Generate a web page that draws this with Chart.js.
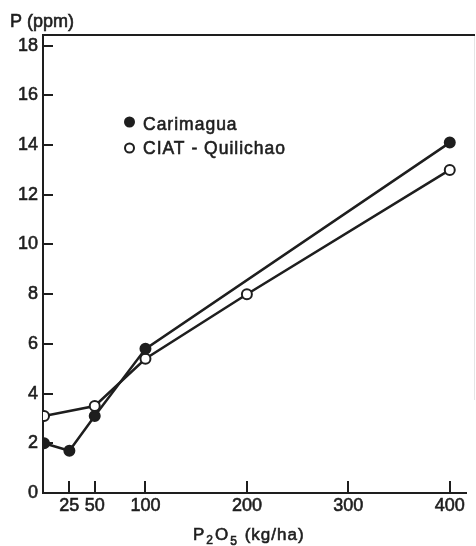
<!DOCTYPE html>
<html>
<head>
<meta charset="utf-8">
<script src="https://cdn.jsdelivr.net/npm/chart.js@4.4.1/dist/chart.umd.min.js"></script>
<style>
  html, body { margin: 0; padding: 0; background: #fff; }
  #wrap { width: 476px; height: 546px; }
</style>
</head>
<body>
<div id="wrap"><canvas id="p-response" width="476" height="546"></canvas></div>
<script>
// Extractable soil P versus applied P2O5 at two sites
const carimaguaRates = [0, 25, 50, 100, 400];
const carimaguaP = [2.0, 1.7, 3.1, 5.8, 14.1];
const quilichaoRates = [0, 50, 100, 200, 400];
const quilichaoP = [3.1, 3.5, 5.4, 8.0, 13.0];
const xTickValues = [25, 50, 100, 200, 300, 400];
const yTickValues = [0, 2, 4, 6, 8, 10, 12, 14, 16, 18];

const INK = '#1e1e1e';
const FONT = "'Liberation Sans', Arial, Helvetica, sans-serif";
const TEXT_STROKE = 0.6; // gives the thin sans a slightly heavier look

function toPoints(xs, ys) {
    return xs.map((x, i) => ({ x: x, y: ys[i] }));
}

function heavyText(ctx, text, x, y) {
    ctx.fillText(text, x, y);
    ctx.strokeText(text, x, y);
}

// inward tick marks, axis titles, legend and the open top frame
const decorations = {
    id: 'decorations',
    afterDraw(chart) {
        const ctx = chart.ctx;
        const area = chart.chartArea;
        const xs = chart.scales.x;
        const ys = chart.scales.y;

        ctx.save();
        ctx.strokeStyle = INK;
        ctx.lineWidth = 2;

        // top frame line
        ctx.beginPath();
        ctx.moveTo(area.left - 1, area.top);
        ctx.lineTo(chart.width - 1, area.top);
        ctx.stroke();
        ctx.strokeStyle = 'rgba(0,0,0,0.1)';
        ctx.lineWidth = 1;
        ctx.beginPath();
        ctx.moveTo(chart.width - 1.5, area.top);
        ctx.lineTo(chart.width - 1.5, 400);
        ctx.stroke();

        ctx.strokeStyle = INK;
        ctx.lineWidth = 2;
        ys.ticks.forEach(t => {
            if (t.value === 0) { return; }
            const py = Math.round(ys.getPixelForValue(t.value));
            ctx.beginPath();
            ctx.moveTo(area.left, py);
            ctx.lineTo(area.left + 10, py);
            ctx.stroke();
        });
        xs.ticks.forEach(t => {
            const px = Math.round(xs.getPixelForValue(t.value));
            ctx.beginPath();
            ctx.moveTo(px, area.bottom);
            ctx.lineTo(px, area.bottom - 12);
            ctx.stroke();
        });

        ctx.fillStyle = INK;
        ctx.lineWidth = TEXT_STROKE;
        ctx.textBaseline = 'alphabetic';
        ctx.textAlign = 'left';

        // y title
        ctx.font = '18px ' + FONT;
        heavyText(ctx, 'P (ppm)', 10, 27);

        // x title with subscripts
        ctx.letterSpacing = '1px';
        let x = 193;
        const base = 540;
        const parts = [
            ['P', 17, 0], ['2', 12, 4], ['O', 17, 0], ['5', 12, 5], [' (kg/ha)', 17, 0]
        ];
        parts.forEach(p => {
            ctx.font = p[1] + 'px ' + FONT;
            heavyText(ctx, p[0], x, base + p[2]);
            x += ctx.measureText(p[0]).width + 1;
        });

        // legend
        ctx.font = '17.5px ' + FONT;
        const rows = [[122, 130], [148, 154]];
        chart.data.datasets.forEach((ds, i) => {
            const r = rows[i];
            ctx.beginPath();
            ctx.arc(129.5, r[0], 4.5, 0, Math.PI * 2);
            ctx.fillStyle = ds.pointBackgroundColor;
            ctx.fill();
            ctx.lineWidth = 2;
            ctx.stroke();
            ctx.fillStyle = INK;
            ctx.lineWidth = TEXT_STROKE;
            heavyText(ctx, ds.label, 143, r[1]);
        });
        ctx.restore();
    }
};

const tickFont = {
    color: INK,
    textStrokeColor: INK,
    textStrokeWidth: TEXT_STROKE,
    font: { family: FONT, size: 18 },
};

new Chart(document.getElementById('p-response'), {
    type: 'line',
    data: {
        datasets: [
            {
                label: 'Carimagua',
                data: toPoints(carimaguaRates, carimaguaP),
                borderColor: INK,
                borderWidth: 2.5,
                pointBackgroundColor: INK,
                pointBorderColor: INK,
                pointBorderWidth: 2,
                pointRadius: 5,
                tension: 0,
            },
            {
                label: 'CIAT - Quilichao',
                data: toPoints(quilichaoRates, quilichaoP),
                borderColor: INK,
                borderWidth: 2.5,
                pointBackgroundColor: '#ffffff',
                pointBorderColor: INK,
                pointBorderWidth: 2,
                pointRadius: 5,
                tension: 0,
            }
        ]
    },
    options: {
        responsive: false,
        animation: false,
        devicePixelRatio: 1,
        layout: { padding: { top: 35, left: 0, right: 10, bottom: 0 } },
        plugins: {
            legend: { display: false },
            tooltip: { enabled: false },
        },
        scales: {
            x: {
                type: 'linear',
                min: -1,
                max: 416,
                afterBuildTicks: s => { s.ticks = xTickValues.map(v => ({ value: v })); },
                afterFit: s => { s.height = 53; },
                grid: { display: false, drawTicks: false },
                border: { display: true, color: INK, width: 2 },
                ticks: Object.assign({ padding: 2, maxRotation: 0, autoSkip: false }, tickFont),
            },
            y: {
                min: 0,
                max: 18.43,
                afterBuildTicks: s => { s.ticks = yTickValues.map(v => ({ value: v })); },
                afterFit: s => { s.width = 43; },
                grid: { display: false, drawTicks: false },
                border: { display: true, color: INK, width: 2 },
                ticks: Object.assign({ padding: 5 }, tickFont),
            }
        }
    },
    plugins: [decorations]
});
</script>
</body>
</html>
